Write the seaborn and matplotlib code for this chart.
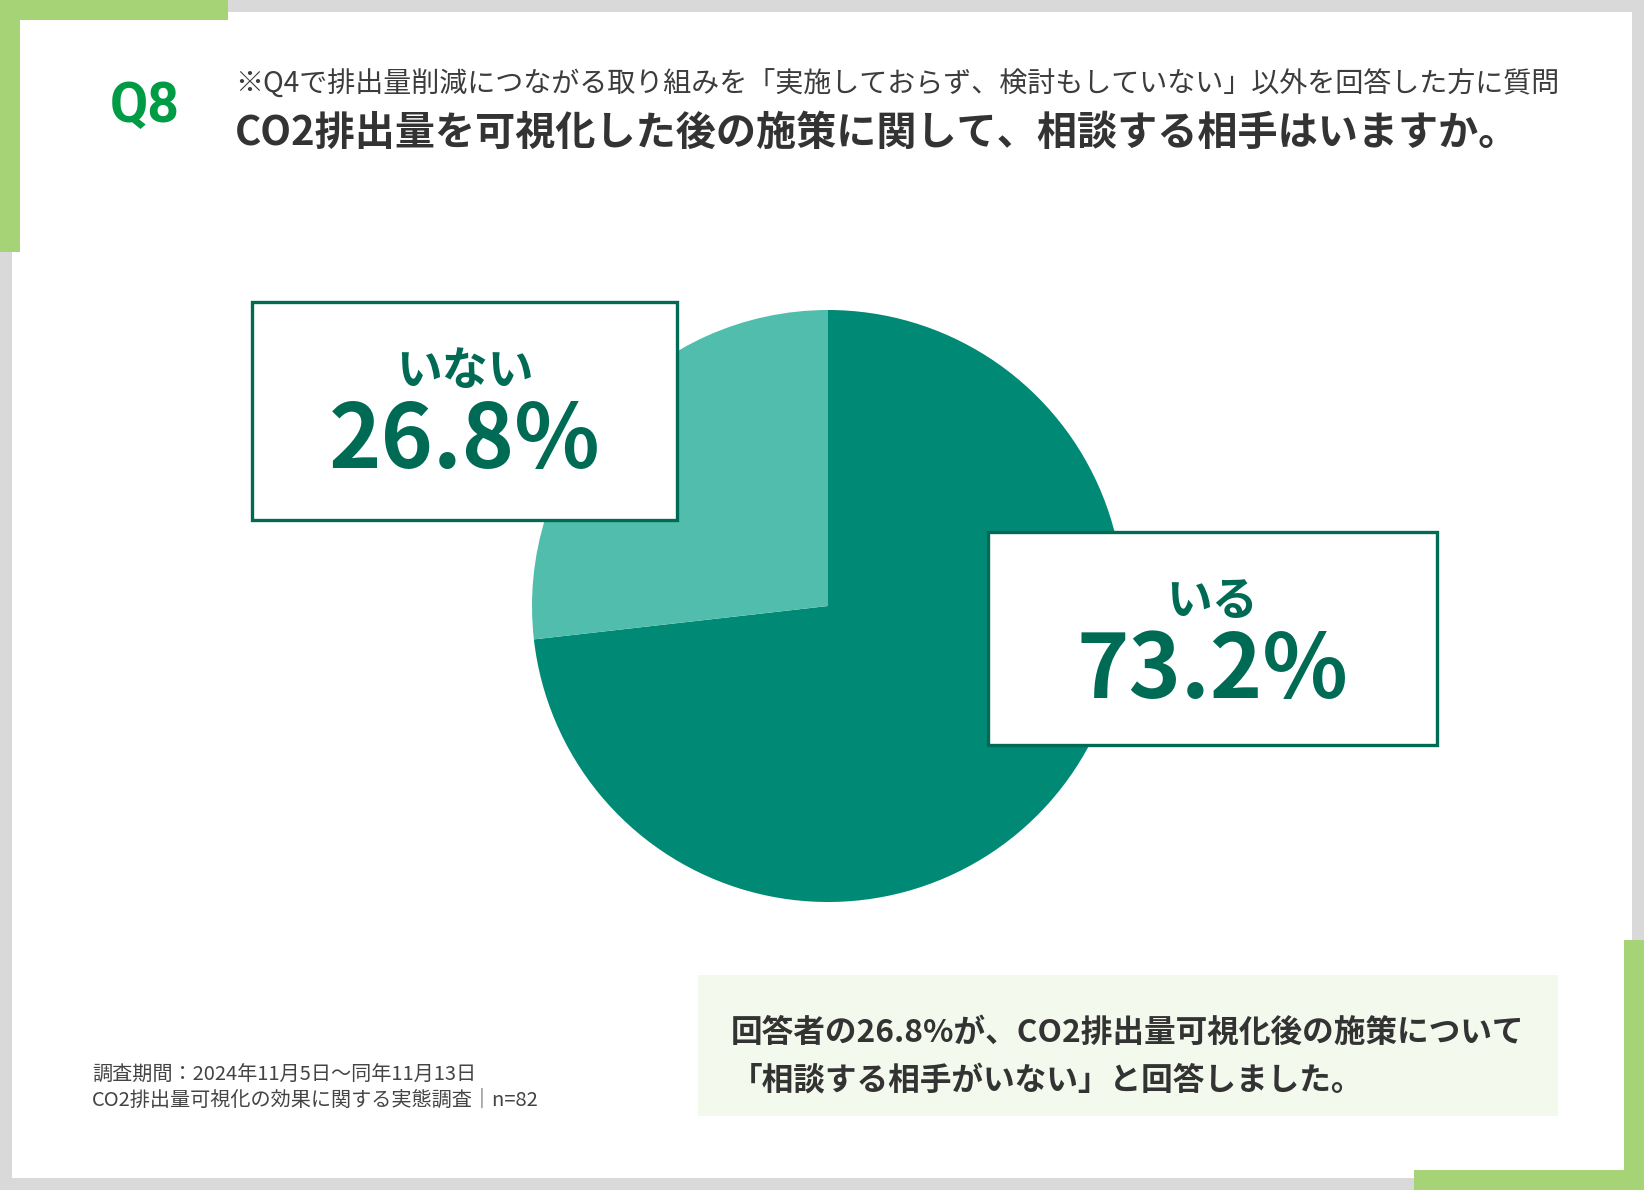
import matplotlib
matplotlib.use("Agg")
import matplotlib.pyplot as plt
import seaborn as sns
from matplotlib.patches import Rectangle

# Data
labels = ["いる", "いない"]
shares = [73.2, 26.8]
slice_colors = ["#008A75", "#51BDAD"]

question_no = "Q8"
note_text = "※Q4で排出量削減につながる取り組みを「実施しておらず、検討もしていない」以外を回答した方に質問"
title_text = "CO2排出量を可視化した後の施策に関して、相談する相手はいますか。"
summary_lines = ["回答者の26.8%が、CO2排出量可視化後の施策について",
                 "「相談する相手がいない」と回答しました。"]
source_lines = ["調査期間：2024年11月5日〜同年11月13日",
                "CO2排出量可視化の効果に関する実態調査｜n=82"]

sns.set_theme(style="white")
plt.rcParams['font.family'] = ['Noto Sans CJK JP', 'DejaVu Sans']

W, H = 1644, 1190
fig = plt.figure(figsize=(W / 100, H / 100), dpi=100)
fig.patch.set_facecolor("#D9D9D9")

# background layer in pixel coordinates
bg = fig.add_axes([0, 0, 1, 1], zorder=0)
bg.set_xlim(0, W)
bg.set_ylim(H, 0)
bg.axis("off")

frame_green = "#A6D376"
bg.add_patch(Rectangle((12, 12), W - 24, H - 24, facecolor="white", edgecolor="none"))
bg.add_patch(Rectangle((0, 0), 228, 20, facecolor=frame_green, edgecolor="none"))
bg.add_patch(Rectangle((0, 0), 20, 252, facecolor=frame_green, edgecolor="none"))
bg.add_patch(Rectangle((W - 20, 940), 20, H - 940, facecolor=frame_green, edgecolor="none"))
bg.add_patch(Rectangle((1414, H - 20), W - 1414, 20, facecolor=frame_green, edgecolor="none"))

# Pie
cx, cy, r = 828, 606, 296
pie_ax = fig.add_axes([(cx - r) / W, 1 - (cy + r) / H, 2 * r / W, 2 * r / H], zorder=1)
pie_ax.pie(shares, colors=slice_colors, startangle=90, counterclock=False,
           radius=1, wedgeprops=dict(linewidth=0))
pie_ax.set_xlim(-1, 1)
pie_ax.set_ylim(-1, 1)
pie_ax.axis("off")

# foreground layer
fg = fig.add_axes([0, 0, 1, 1], zorder=2)
fg.set_xlim(0, W)
fg.set_ylim(H, 0)
fg.axis("off")

label_green = "#006B55"
label_boxes = {"いる": (988, 532, 449, 213), "いない": (252, 302, 425, 218)}
for lab, val in zip(labels, shares):
    x0, y0, w, h = label_boxes[lab]
    fg.add_patch(Rectangle((x0, y0), w, h, facecolor="white",
                           edgecolor=label_green, linewidth=2.4))
    xc = x0 + w / 2
    fg.text(xc, y0 + 83, lab, ha="center", va="baseline", fontsize=33,
            fontweight="bold", color=label_green)
    fg.text(xc, y0 + 166, f"{val}%", ha="center", va="baseline", fontsize=64,
            fontweight="bold", color=label_green)

# Header
fg.text(110, 122, question_no, ha="left", va="baseline", fontsize=40,
        fontweight="bold", color="#009B45", family=["Roboto", "DejaVu Sans"])
fg.text(235, 93, note_text, ha="left", va="baseline", fontsize=20.2, color="#3C3C3C")
fg.text(235, 145, title_text, ha="left", va="baseline", fontsize=28.9,
        fontweight="bold", color="#333333")

# Summary box
fg.add_patch(Rectangle((698, 975), 860, 141, facecolor="#F4F9EE", edgecolor="none"))
for i, line in enumerate(summary_lines):
    fg.text(731, 1042 + i * 48, line, ha="left", va="baseline", fontsize=22.8,
            fontweight="bold", color="#333333")

# Source
for i, line in enumerate(source_lines):
    fg.text(92, 1081 + i * 25, line, ha="left", va="baseline", fontsize=14.5,
            color="#444444")

fig.savefig("out.png", dpi=100, facecolor=fig.get_facecolor())
